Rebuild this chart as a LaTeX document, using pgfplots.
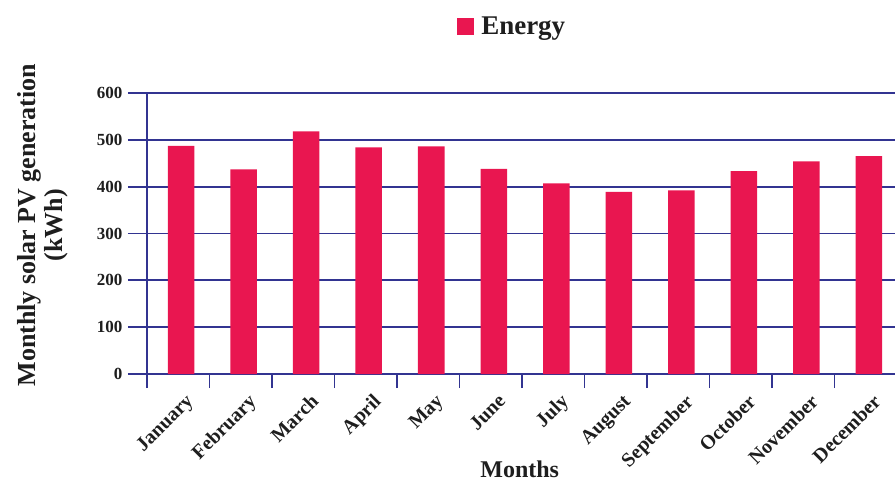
\documentclass[border=0pt]{standalone}
\usepackage{pgfplots}
\pgfplotsset{compat=1.18}
\usepackage{fontspec}
\setmainfont{Liberation Serif}
\definecolor{barred}{RGB}{233,22,80}
\definecolor{navy}{RGB}{50,52,145}
\definecolor{txt}{RGB}{30,30,30}
\begin{document}
\begin{tikzpicture}
\begin{axis}[
  scale only axis,
  width=750pt, height=281pt,
  xmin=-0.5, xmax=11.5,
  ymin=0, ymax=600,
  axis x line*=bottom, axis y line*=left,
  axis line style={-, draw=navy, line width=1.8pt},
  ytick={0,100,...,600},
  xtick={0,...,11},
  xticklabels={January,February,March,April,May,June,July,August,September,October,November,December},
  minor xtick={-0.5,0.5,...,11.5},
  tick align=outside,
  major tick length=19pt,
  minor tick length=14pt,
  tick style={draw=navy, line width=1.8pt},
  major x tick style={draw=none},
  minor x tick style={draw=navy, line width=1.8pt},
  ymajorgrids,
  grid style={draw=navy, line width=1.8pt},
  /pgf/number format/assume math mode=true,
  yticklabel style={font=\bfseries\fontsize{17}{17}\selectfont, text=txt, xshift=-2pt},
  xticklabel style={font=\bfseries\fontsize{20}{20}\selectfont, text=txt, rotate=45, anchor=north east, xshift=8pt, yshift=-1pt},
  legend style={at={(0.487,1)}, anchor=center, yshift=67pt, draw=none, fill=none,
    font=\bfseries\fontsize{27}{27}\selectfont, text=txt,
    /tikz/every odd column/.append style={column sep=5pt}},
  legend image code/.code={\fill[#1] (0pt,-8.5pt) rectangle (17pt,8.5pt);},
  clip=false,
]
\addplot[ybar, bar width=26.5pt, bar shift=3pt, fill=barred, draw=none]
  coordinates {(0,487) (1,437) (2,518) (3,484) (4,486) (5,438) (6,407) (7,389) (8,392) (9,433) (10,454) (11,465)};
\addlegendentry{Energy}
\node[xshift=-104pt, rotate=90, align=center, text=txt, font=\bfseries\fontsize{26}{27}\selectfont] at (axis description cs:0,0.53) {Monthly solar PV generation\\(kWh)};
\node[yshift=-103pt, text=txt, font=\bfseries\fontsize{24}{24}\selectfont, anchor=base] at (axis description cs:0.497,0) {Months};
\end{axis}
\pgfresetboundingbox
\path[use as bounding box] (-147pt,-108pt) rectangle (748pt,374pt);
\end{tikzpicture}
\end{document}
